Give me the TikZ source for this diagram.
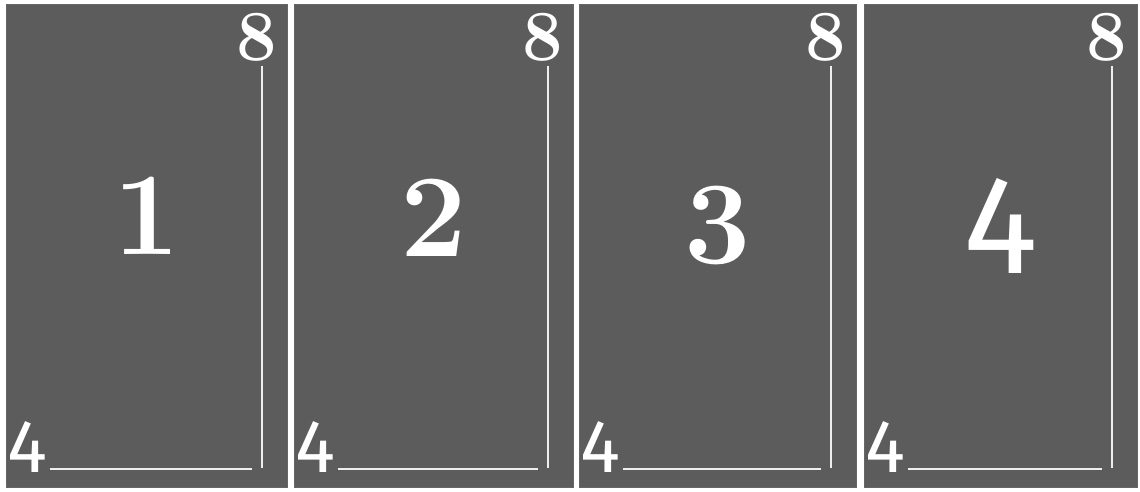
\documentclass[tikz,border=0pt]{standalone}
\usepackage{fontspec}
\newfontfamily\firasans{Fira Sans}
\usetikzlibrary{calc}
\definecolor{slate}{RGB}{92,92,92}
\definecolor{chalk}{RGB}{238,238,238}

\tikzset{
  panel/.style={fill=slate, draw=black!60, line width=1pt},
  bignum/.style={text=white, font=\bfseries\fontsize{118}{118}\selectfont, inner sep=0pt},
  bigfour/.style={text=white, font=\firasans\fontsize{140}{140}\selectfont, inner sep=0pt},
  topnum/.style={text=white, font=\bfseries\fontsize{72}{72}\selectfont, inner sep=0pt, anchor=north},
  cornernum/.style={text=white, font=\firasans\fontsize{75}{75}\selectfont, inner sep=0pt, anchor=base west},
  guide/.style={draw=chalk, line width=1.6pt},
}

\begin{document}
\begin{tikzpicture}[x=1pt, y=-1pt]
  % Page
  \fill[white] (0,0) rectangle (1140,492);
  \useasboundingbox (0,0) rectangle (1140,492);
  % Panels with their corner marks
  \foreach \l/\r/\n in {6/287/1, 294/573/2, 579/856/3, 864/1137/4} {
    \filldraw[panel] (\l,5) rectangle (\r,487);
    \coordinate (mid\n) at ({(\l+\r)/2}, 216);
    \node[topnum] (eight\n) at (\r-30, 13) {8};
    \node[cornernum] (four\n) at (\l+1, 472) {4};
    \draw[guide] ($(eight\n.south)+(5,5)$) -- (\r-25, 468);
    \draw[guide] ($(four\n.base east)+(3,-3)$) -- (\r-35, 469);
  }
  % Big numbers
  \node[bignum] (num1) at (mid1) {1};
  \node[bignum] (num2) at ($(mid2)+(0,2)$) {2};
  \node[bignum] (num3) at ($(mid3)+(0,10)$) {3};
  \node[bigfour] (num4) at ($(mid4)+(0,10)$) {4};
\end{tikzpicture}
\end{document}
